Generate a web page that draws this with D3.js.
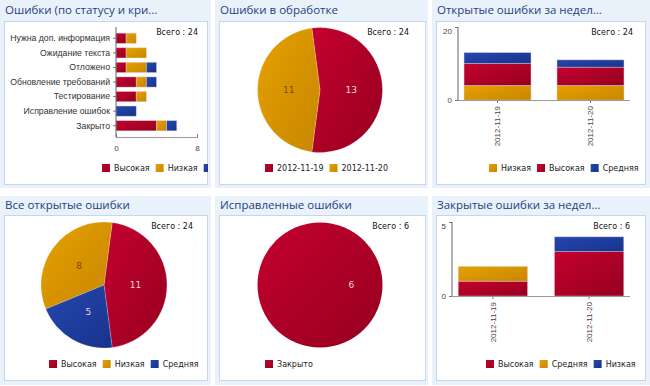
<!DOCTYPE html>
<html>
<head>
<meta charset="utf-8">
<script src="https://cdn.jsdelivr.net/npm/d3@7"></script>
<style>
body { margin: 0; background: #fff; }
svg { display: block; font-family: "DejaVu Sans", Verdana, sans-serif; }
</style>
</head>
<body>
<svg id="board" width="650" height="386"></svg>
<script>
"use strict";

// Panel 1: bugs by status and severity
const statusCategories = ["Нужна доп. информация", "Ожидание текста", "Отложено", "Обновление требований", "Тестирование", "Исправление ошибок", "Закрыто"];
const statusSeries = ["Высокая", "Низкая", "Средняя"];
const statusHigh = [1, 1, 1, 2, 2, 0, 4];
const statusLow = [1, 2, 2, 1, 1, 0, 1];
const statusMid = [0, 0, 1, 1, 0, 2, 1];
const statusTicks = [0, 8];

// Panel 2: bugs in progress
const progressDates = ["2012-11-19", "2012-11-20"];
const progressCounts = [13, 11];

// Panel 3: open bugs per week
const weekDates = ["2012-11-19", "2012-11-20"];
const openWeekSeries = ["Низкая", "Высокая", "Средняя"];
const openWeekLow = [4, 4];
const openWeekHigh = [6, 5];
const openWeekMid = [3, 2];
const openWeekTicks = [0, 20];

// Panel 4: all open bugs
const openSeries = ["Высокая", "Низкая", "Средняя"];
const openCounts = [11, 8, 5];

// Panel 5: fixed bugs
const fixedSeries = ["Закрыто"];
const fixedCounts = [6];

// Panel 6: closed bugs per week
const closedWeekSeries = ["Высокая", "Средняя", "Низкая"];
const closedWeekHigh = [1, 3];
const closedWeekMid = [1, 0];
const closedWeekLow = [0, 1];
const closedWeekTicks = [0, 5];

const svg = d3.select("#board");

// gradients: lighter top-left, darker bottom-right
const palette = {
	red: ["#c4012f", "#96001f"],
	orange: ["#e6a100", "#c78600"],
	blue: ["#2447b0", "#18338a"]
};
const defs = svg.append("defs");
Object.entries(palette).forEach(([name, [c0, c1]]) => {
	const lg = defs.append("linearGradient")
		.attr("id", "g-" + name)
		.attr("x1", 0).attr("y1", 0).attr("x2", 1).attr("y2", 1);
	lg.append("stop").attr("offset", "0%").attr("stop-color", c0);
	lg.append("stop").attr("offset", "100%").attr("stop-color", c1);
});
const fillOf = c => `url(#g-${c})`;

// layout of the dashboard
const colX = [0, 215, 432];
const colW = [211, 213, 218];
const boxX = [4, 219, 436];
const boxW = [204, 207, 210];
const rowSpec = [
	{top: 0, bottom: 188, title: 14, boxTop: 21, boxBottom: 185},
	{top: 196, bottom: 385, title: 209, boxTop: 215, boxBottom: 381}
];

function panel(col, row, title) {
	const r = rowSpec[row];
	const g = svg.append("g");
	g.append("rect")
		.attr("x", colX[col]).attr("y", r.top)
		.attr("width", colW[col]).attr("height", r.bottom - r.top)
		.attr("fill", "#e9f1fb");
	g.append("text")
		.attr("x", colX[col] + 5).attr("y", r.title)
		.attr("fill", "#1d4282")
		.attr("font-family", "'Open Sans', sans-serif")
		.attr("font-size", 11.5)
		.text(title);
	const id = `clip-${col}-${row}`;
	defs.append("clipPath").attr("id", id)
		.append("rect")
		.attr("x", boxX[col]).attr("y", r.boxTop)
		.attr("width", boxW[col]).attr("height", r.boxBottom - r.boxTop);
	g.append("rect")
		.attr("x", boxX[col] + 0.5).attr("y", r.boxTop + 0.5)
		.attr("width", boxW[col] - 1).attr("height", r.boxBottom - r.boxTop - 1)
		.attr("fill", "#fff")
		.attr("stroke", "#c6d6ec");
	return g.append("g").attr("clip-path", `url(#${id})`);
}

function total(g, x, y, n) {
	g.append("text")
		.attr("x", x).attr("y", y)
		.attr("dy", "0.35em")
		.attr("text-anchor", "end")
		.attr("font-size", 8)
		.attr("fill", "#111")
		.text("Всего : " + n);
}

function legend(g, x, y, names, colors) {
	let cx = x;
	names.forEach((name, i) => {
		g.append("rect")
			.attr("x", cx).attr("y", y - 4)
			.attr("width", 8).attr("height", 8)
			.attr("fill", fillOf(colors[i]));
		const t = g.append("text")
			.attr("x", cx + 12).attr("y", y)
			.attr("dy", "0.35em")
			.attr("font-size", 8)
			.attr("fill", "#222")
			.text(name);
		cx += 12 + t.node().getComputedTextLength() + 6;
	});
}

function styleAxis(a) {
	a.select(".domain").remove();
	a.selectAll("line").attr("stroke", "#777");
	a.selectAll("text").attr("fill", "#444").attr("font-size", 8);
}

function pie(g, cx, cy, radius, names, counts, colors) {
	const sum = d3.sum(counts);
	// first slice centred at 3 o'clock, following slices counter-clockwise
	const a0 = Math.PI / 2 + Math.PI * counts[0] / sum;
	const arcs = d3.pie().sort(null).startAngle(a0).endAngle(a0 - 2 * Math.PI)(counts);
	const arc = d3.arc().innerRadius(0).outerRadius(radius);
	const pg = g.append("g").attr("transform", `translate(${cx},${cy})`);
	pg.selectAll("path")
		.data(arcs)
		.enter()
		.append("path")
		.attr("d", arc)
		.attr("fill", (d, i) => fillOf(colors[i]))
		.attr("stroke", counts.length > 1 ? "rgba(255,255,255,0.35)" : "none")
		.attr("stroke-width", 0.6);
	pg.selectAll("text")
		.data(arcs)
		.enter()
		.append("text")
		.attr("transform", d => `translate(${arc.centroid(d)})`)
		.attr("text-anchor", "middle")
		.attr("dy", "0.35em")
		.attr("font-size", 9)
		.attr("fill", (d, i) => colors[i] === "orange" ? "#7a4b00" : "#f1d2da")
		.text(d => d.data);
}

function stackedColumns(g, opt) {
	const rows = opt.dates.map((d, i) => {
		const row = {date: d};
		opt.series.forEach((s, k) => row[s] = opt.values[k][i]);
		return row;
	});
	const x = d3.scaleBand().domain(opt.dates).range(opt.xRange).paddingInner(0.28).paddingOuter(0.065);
	const y = d3.scaleLinear().domain([0, opt.ticks[1]]).range(opt.yRange);
	const layers = d3.stack().keys(opt.series)(rows);
	layers.forEach((layer, k) => {
		g.append("g").selectAll("rect")
			.data(layer)
			.enter()
			.append("rect")
			.attr("x", d => x(d.data.date))
			.attr("y", d => y(d[1]))
			.attr("width", x.bandwidth())
			.attr("height", d => y(d[0]) - y(d[1]))
			.attr("fill", fillOf(opt.colors[k]))
			.attr("stroke", d => d[1] > d[0] ? "rgba(220,200,230,0.55)" : "none")
			.attr("stroke-width", 0.8);
	});
	const yAxis = g.append("g")
		.attr("transform", `translate(${opt.xRange[0]},0)`)
		.call(d3.axisLeft(y).tickValues(opt.ticks).tickFormat(d3.format("d")).tickSize(3).tickPadding(3));
	styleAxis(yAxis);
	yAxis.selectAll("text").attr("dy", d => d === opt.ticks[1] ? "0.85em" : "0.32em");
	const xAxis = g.append("g")
		.attr("transform", `translate(0,${opt.yRange[0]})`)
		.call(d3.axisBottom(x).tickSize(3));
	styleAxis(xAxis);
	xAxis.selectAll("text")
		.attr("transform", "rotate(-90)")
		.attr("text-anchor", "end")
		.attr("x", -6).attr("y", 0)
		.attr("dy", "0.35em");
	g.append("line")
		.attr("x1", opt.xRange[0]).attr("x2", opt.xRange[0])
		.attr("y1", opt.yRange[1]).attr("y2", opt.yRange[0])
		.attr("stroke", "#666");
	g.append("line")
		.attr("x1", opt.xRange[0]).attr("x2", opt.xRange[1])
		.attr("y1", opt.yRange[0] + 0.5).attr("y2", opt.yRange[0] + 0.5)
		.attr("stroke", "#999");
}

// ---- Panel 1 ----
{
	const g = panel(0, 0, "Ошибки (по статусу и кри...");
	const rows = statusCategories.map((c, i) => ({
		cat: c, "Высокая": statusHigh[i], "Низкая": statusLow[i], "Средняя": statusMid[i]
	}));
	const y = d3.scaleBand().domain(statusCategories).range([31, 133]).paddingInner(0.3).paddingOuter(0.15);
	const x = d3.scaleLinear().domain([0, statusTicks[1]]).range([116, 197]);
	const colors = ["red", "orange", "blue"];
	d3.stack().keys(statusSeries)(rows).forEach((layer, k) => {
		g.append("g").selectAll("rect")
			.data(layer)
			.enter()
			.append("rect")
			.attr("x", d => x(d[0]))
			.attr("y", d => y(d.data.cat))
			.attr("width", d => x(d[1]) - x(d[0]))
			.attr("height", y.bandwidth())
			.attr("fill", fillOf(colors[k]))
			.attr("stroke", d => d[1] > d[0] ? "rgba(230,210,230,0.5)" : "none")
			.attr("stroke-width", 0.8);
	});
	const yAxis = g.append("g")
		.attr("transform", "translate(116,0)")
		.call(d3.axisLeft(y).tickSize(3).tickPadding(3));
	styleAxis(yAxis);
	yAxis.selectAll("text").attr("font-size", 8.7).attr("fill", "#333");
	const xAxis = g.append("g")
		.attr("transform", "translate(0,137)")
		.call(d3.axisBottom(x).tickValues(statusTicks).tickSizeInner(-3).tickSizeOuter(0).tickPadding(8));
	styleAxis(xAxis);
	g.append("line").attr("x1", 116).attr("x2", 116).attr("y1", 27).attr("y2", 137).attr("stroke", "#666");
	g.append("line").attr("x1", 116).attr("x2", 198).attr("y1", 137.5).attr("y2", 137.5).attr("stroke", "#999");
	total(g, 198, 32, d3.sum(statusHigh) + d3.sum(statusLow) + d3.sum(statusMid));
	legend(g, 102, 168, statusSeries, colors);
}

// ---- Panel 2 ----
{
	const g = panel(1, 0, "Ошибки в обработке");
	pie(g, 320, 90, 62.5, progressDates, progressCounts, ["red", "orange"]);
	total(g, 409, 32, d3.sum(progressCounts));
	legend(g, 265, 168, progressDates, ["red", "orange"]);
}

// ---- Panel 3 ----
{
	const g = panel(2, 0, "Открытые ошибки за недел...");
	const colors = ["orange", "red", "blue"];
	stackedColumns(g, {
		dates: weekDates,
		series: openWeekSeries,
		values: [openWeekLow, openWeekHigh, openWeekMid],
		ticks: openWeekTicks,
		colors,
		xRange: [458, 630],
		yRange: [100, 27]
	});
	total(g, 633, 32, d3.sum(openWeekLow) + d3.sum(openWeekHigh) + d3.sum(openWeekMid));
	legend(g, 489, 168, openWeekSeries, colors);
}

// ---- Panel 4 ----
{
	const g = panel(0, 1, "Все открытые ошибки");
	const colors = ["red", "orange", "blue"];
	pie(g, 104, 285, 63, openSeries, openCounts, colors);
	total(g, 193, 226, d3.sum(openCounts));
	legend(g, 49, 364, openSeries, colors);
}

// ---- Panel 5 ----
{
	const g = panel(1, 1, "Исправленные ошибки");
	pie(g, 320, 285, 62.5, fixedSeries, fixedCounts, ["red"]);
	total(g, 409, 226, d3.sum(fixedCounts));
	legend(g, 265, 364, fixedSeries, ["red"]);
}

// ---- Panel 6 ----
{
	const g = panel(2, 1, "Закрытые ошибки за недел...");
	const colors = ["red", "orange", "blue"];
	stackedColumns(g, {
		dates: weekDates,
		series: closedWeekSeries,
		values: [closedWeekHigh, closedWeekMid, closedWeekLow],
		ticks: closedWeekTicks,
		colors,
		xRange: [452, 630],
		yRange: [296, 222]
	});
	total(g, 630, 226, d3.sum(closedWeekHigh) + d3.sum(closedWeekMid) + d3.sum(closedWeekLow));
	legend(g, 486, 364, closedWeekSeries, colors);
}
</script>
</body>
</html>
